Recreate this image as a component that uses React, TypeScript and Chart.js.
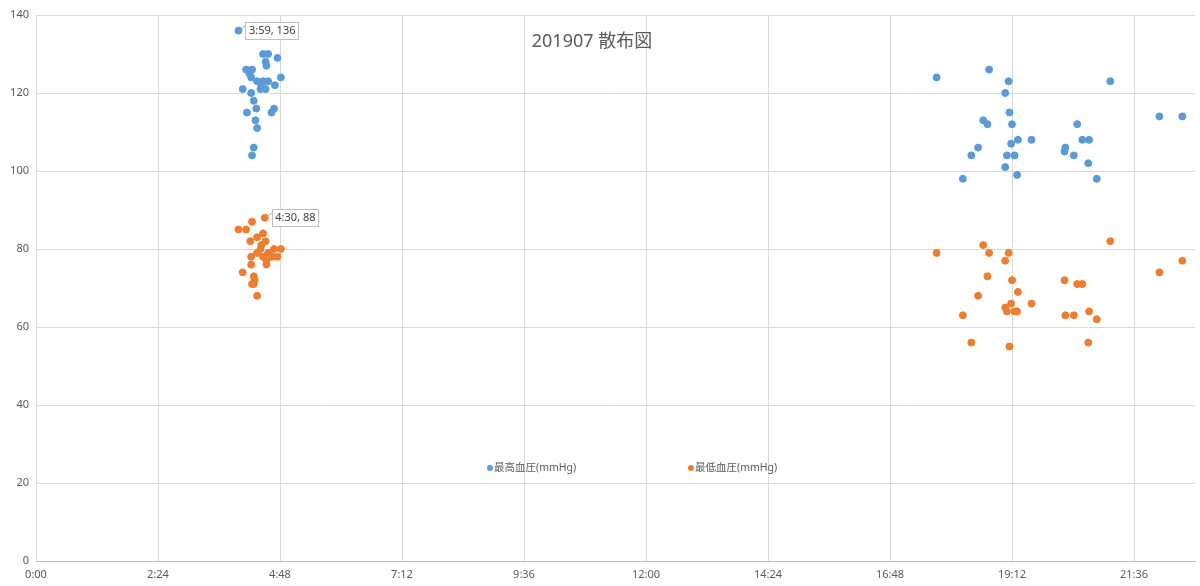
import { useEffect, useRef } from "react";
import { Chart, registerables } from "chart.js";

Chart.register(...registerables);

const title = "201907 散布図";
const seriesNames = ["最高血圧(mmHg)", "最低血圧(mmHg)"];
const seriesColors = ["#5B9BD5", "#ED7D31"];
const xTickLabels = ["0:00", "2:24", "4:48", "7:12", "9:36", "12:00", "14:24", "16:48", "19:12", "21:36"];
const xMax = "22:48";
const yMax = 140;
const yStep = 20;

// 最高血圧: measured time, value
const highTimes = [
  "3:59", "4:28", "4:34", "4:45", "4:31", "4:32", "4:08", "4:15", "4:12", "4:14",
  "4:49", "4:21", "4:28", "4:34", "4:26", "4:42", "4:04", "4:25", "4:31", "4:14",
  "4:17", "4:20", "4:41", "4:38", "4:09", "4:19", "4:21", "4:17", "4:15",
  "17:43", "18:45", "19:08", "21:08", "19:04", "19:09", "22:06", "22:33", "18:38", "18:43",
  "19:12", "20:29", "19:19", "19:35", "20:35", "20:43", "19:11", "18:32", "20:15", "20:14",
  "18:24", "19:06", "19:15", "20:25", "20:42", "19:04", "19:18", "18:14", "20:52",
];
const highValues = [
  136, 130, 130, 129, 128, 127, 126, 126, 125, 124,
  124, 123, 123, 123, 122, 122, 121, 121, 121, 120,
  118, 116, 116, 115, 115, 113, 111, 106, 104,
  124, 126, 123, 123, 120, 115, 114, 114, 113, 112,
  112, 112, 108, 108, 108, 108, 107, 106, 106, 105,
  104, 104, 104, 104, 102, 101, 99, 98, 98,
];

// 最低血圧
const lowTimes = [
  "4:30", "4:15", "3:59", "4:08", "4:21", "4:28", "4:13", "4:31", "4:26", "4:41",
  "4:49", "4:25", "4:21", "4:34", "4:14", "4:28", "4:39", "4:45", "4:32", "4:14",
  "4:32", "4:04", "4:17", "4:18", "4:15", "4:17", "4:21",
  "17:43", "18:38", "18:45", "19:08", "21:08", "19:04", "22:06", "22:33", "18:43", "19:12",
  "20:14", "20:29", "20:35", "18:32", "19:19", "19:35", "19:11", "19:04", "19:06", "19:15",
  "19:18", "20:43", "18:14", "20:15", "20:25", "20:52", "18:24", "20:42", "19:09",
];
const lowValues = [
  88, 87, 85, 85, 83, 84, 82, 82, 81, 80,
  80, 80, 79, 79, 78, 78, 78, 78, 77, 76,
  76, 74, 73, 72, 71, 71, 68,
  79, 81, 79, 79, 82, 77, 74, 77, 73, 72,
  72, 71, 71, 68, 69, 66, 66, 65, 64, 64,
  64, 64, 63, 63, 63, 62, 56, 56, 55,
];

// points that carry a data label
const labelled = [
  { series: 0, time: "3:59", value: 136 },
  { series: 1, time: "4:30", value: 88 },
];

const FONT = "'Noto Sans', 'Noto Sans CJK JP', sans-serif";
const TEXT = "#595959";

const toMin = (t: string) => {
  const [h, m] = t.split(":").map(Number);
  return h * 60 + m;
};
const fmt = (v: number) => `${Math.floor(v / 60)}:${String(Math.round(v % 60)).padStart(2, "0")}`;

const overlay = {
  id: "overlay",
  afterDatasetsDraw(chart: any) {
    const { ctx, chartArea } = chart;
    ctx.save();

    // title inside plot
    ctx.fillStyle = TEXT;
    ctx.font = `18px ${FONT}`;
    ctx.textAlign = "center";
    ctx.textBaseline = "middle";
    ctx.fillText(title, 592, 42);

    // legend inside plot
    const ly = chartArea.bottom - 93;
    const lx = [490, 691];
    ctx.font = `10.5px ${FONT}`;
    ctx.textAlign = "left";
    seriesNames.forEach((name, i) => {
      ctx.fillStyle = seriesColors[i];
      ctx.beginPath();
      ctx.arc(lx[i], ly, 3, 0, Math.PI * 2);
      ctx.fill();
      ctx.fillStyle = TEXT;
      ctx.fillText(name, lx[i] + 4, ly);
    });

    // data labels
    ctx.font = `11px ${FONT}`;
    labelled.forEach((l) => {
      const ds = chart.data.datasets[l.series].data as { x: number; y: number }[];
      const idx = ds.findIndex((p) => p.x === toMin(l.time) && p.y === l.value);
      if (idx < 0) return;
      const el = chart.getDatasetMeta(l.series).data[idx];
      const text = `${l.time}, ${l.value}`;
      const w = ctx.measureText(text).width + 6;
      const bx = el.x + 7;
      const by = el.y - 9;
      ctx.strokeStyle = "#A6A6A6";
      ctx.lineWidth = 1;
      ctx.beginPath();
      ctx.moveTo(el.x + 2, el.y - 1);
      ctx.lineTo(bx, el.y - 5);
      ctx.stroke();
      ctx.fillStyle = "#fff";
      ctx.fillRect(Math.round(bx) + 0.5, Math.round(by) + 0.5, Math.round(w), 17);
      ctx.strokeStyle = "#BFBFBF";
      ctx.strokeRect(Math.round(bx) + 0.5, Math.round(by) + 0.5, Math.round(w), 17);
      ctx.fillStyle = "#404040";
      ctx.fillText(text, bx + 3.5, by + 9);
    });
    ctx.restore();
  },
};

export default function App() {
  const ref = useRef<HTMLCanvasElement>(null);

  useEffect(() => {
    document.body.style.margin = "0";
    if (!ref.current) return;
    const chart = new Chart(ref.current, {
      type: "scatter",
      data: {
        datasets: [
          {
            label: seriesNames[0],
            data: highTimes.map((t, i) => ({ x: toMin(t), y: highValues[i] })),
            backgroundColor: seriesColors[0],
            borderColor: seriesColors[0],
            pointRadius: 3.5,
          },
          {
            label: seriesNames[1],
            data: lowTimes.map((t, i) => ({ x: toMin(t), y: lowValues[i] })),
            backgroundColor: seriesColors[1],
            borderColor: seriesColors[1],
            pointRadius: 3.5,
          },
        ],
      },
      options: {
        responsive: true,
        maintainAspectRatio: false,
        animation: false,
        events: [],
        layout: { padding: { top: 15, right: 2, left: 0, bottom: 0 } },
        plugins: {
          legend: { display: false },
          tooltip: { enabled: false },
        },
        scales: {
          x: {
            type: "linear",
            min: 0,
            max: toMin(xMax),
            afterBuildTicks: (scale: any) => {
              scale.ticks = xTickLabels.map((l) => ({ value: toMin(l) }));
            },
            afterFit: (scale: any) => {
              scale.height = 25;
            },
            ticks: {
              callback: (v: any) => fmt(Number(v)),
              color: TEXT,
              font: { family: FONT, size: 11 },
              padding: 7,
              maxRotation: 0,
            },
            grid: { color: "#D9D9D9", drawTicks: false },
            border: { color: "#BFBFBF" },
          },
          y: {
            min: 0,
            max: yMax,
            afterFit: (scale: any) => {
              scale.width = 36;
            },
            ticks: {
              stepSize: yStep,
              color: TEXT,
              font: { family: FONT, size: 11 },
              padding: 7,
            },
            grid: { color: "#D9D9D9", drawTicks: false },
            border: { display: false },
          },
        },
      },
      plugins: [overlay],
    });
    return () => {
      chart.destroy();
    };
  }, []);

  return (
    <div style={{ width: 1200, height: 586, position: "relative", background: "#fff" }}>
      <canvas ref={ref} />
    </div>
  );
}
